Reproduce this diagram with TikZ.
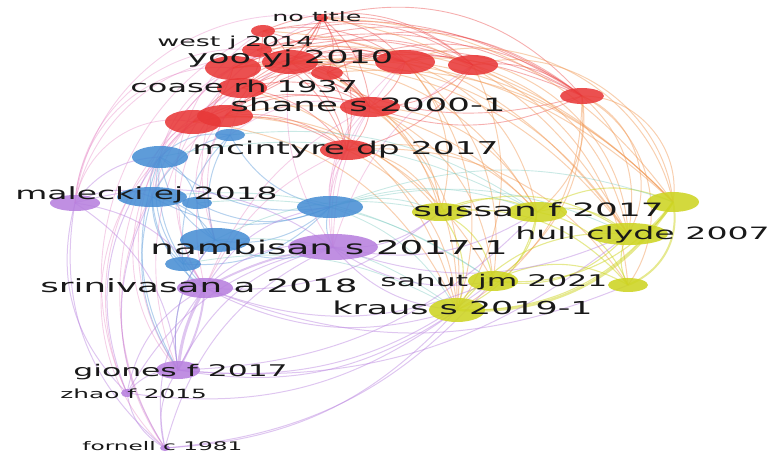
\documentclass[tikz,border=0pt]{standalone}
\usepackage{fontspec}
\setmainfont{DejaVu Sans}
\usetikzlibrary{shapes.geometric,backgrounds}
\definecolor{vred}{RGB}{232,56,56}
\definecolor{vblue}{RGB}{72,142,212}
\definecolor{vpurple}{RGB}{183,128,222}
\definecolor{vyellow}{RGB}{205,212,34}
\definecolor{vorange}{RGB}{240,150,80}
\definecolor{vpink}{RGB}{226,120,190}
\definecolor{vteal}{RGB}{120,200,190}
\tikzset{
  pub/.style={ellipse, inner sep=0pt, fill opacity=.88},
  rnode/.style={pub, fill=vred},
  bnode/.style={pub, fill=vblue},
  pnode/.style={pub, fill=vpurple},
  ynode/.style={pub, fill=vyellow},
  sz/.style 2 args={minimum width=#1pt, minimum height=#2pt},
  lab/.style={font=\fontsize{#1}{#1}\selectfont, text=black!90, anchor=base west, inner sep=0pt, xscale=1.95},
  er/.style={draw=vred, draw opacity=.4, line width=.9pt},
  eo/.style={draw=vorange, draw opacity=.45, line width=1pt},
  ey/.style={draw=vyellow, draw opacity=.5, line width=1.1pt},
  eb/.style={draw=vblue, draw opacity=.4, line width=1pt},
  ep/.style={draw=vpurple, draw opacity=.45, line width=1pt},
  ek/.style={draw=vpink, draw opacity=.35, line width=.9pt},
  et/.style={draw=vteal, draw opacity=.4, line width=.9pt}
}

\begin{document}
\begin{tikzpicture}[x=1pt,y=-1pt]
\useasboundingbox (0,0) rectangle (774,454);

% red cluster
\node[rnode,sz={12}{8}] (notitle) at (322,18) {};
\node[rnode,sz={24}{12}] (r2) at (263,31) {};
\node[rnode,sz={30}{14}] (west) at (257,50) {};
\node[rnode,sz={56}{24}] (r5) at (233,68) {};
\node[rnode,sz={56}{24}] (yoo) at (290,62) {};
\node[rnode,sz={32}{14}] (r6) at (327,73) {};
\node[rnode,sz={60}{24}] (r7) at (405,62) {};
\node[rnode,sz={50}{20}] (r8) at (473,65) {};
\node[rnode,sz={44}{16}] (r9) at (582,96) {};
\node[rnode,sz={50}{20}] (coase) at (242,88) {};
\node[rnode,sz={60}{20}] (shane) at (370,107) {};
\node[rnode,sz={56}{24}] (r12) at (193,122) {};
\node[rnode,sz={56}{22}] (r13) at (225,116) {};
\node[rnode,sz={54}{20}] (mcintyre) at (347,150) {};

% blue cluster
\node[bnode,sz={30}{12}] (b1) at (230,135) {};
\node[bnode,sz={56}{22}] (b2) at (160,157) {};
\node[bnode,sz={70}{20}] (malecki) at (152,197) {};
\node[bnode,sz={30}{12}] (b4) at (197,203) {};
\node[bnode,sz={66}{22}] (b5) at (330,207) {};
\node[bnode,sz={70}{24}] (b6) at (215,240) {};
\node[bnode,sz={36}{14}] (b7) at (183,264) {};

% purple cluster
\node[pnode,sz={50}{16}] (p1) at (75,203) {};
\node[pnode,sz={90}{26}] (nambisan) at (333,247) {};
\node[pnode,sz={56}{20}] (srinivasan) at (205,288) {};
\node[pnode,sz={44}{18}] (giones) at (178,370) {};
\node[pnode,sz={12}{8}] (zhao) at (127,393) {};
\node[pnode,sz={10}{6}] (fornell) at (165,448) {};

% yellow cluster
\node[ynode,sz={56}{18}] (y1) at (440,212) {};
\node[ynode,sz={60}{20}] (sussan) at (537,212) {};
\node[ynode,sz={52}{20}] (y3) at (673,202) {};
\node[ynode,sz={80}{22}] (hull) at (628,234) {};
\node[ynode,sz={50}{20}] (sahut) at (493,281) {};
\node[ynode,sz={40}{14}] (y6) at (628,285) {};
\node[ynode,sz={56}{24}] (kraus) at (457,310) {};

\begin{pgfonlayer}{background}
% links inside red
\foreach \a/\b in {notitle/yoo, notitle/r7, notitle/r8, notitle/shane, notitle/r5,
    notitle/mcintyre, notitle/coase, r2/yoo, r2/r7, r2/shane, west/shane, west/r7,
    yoo/r7, yoo/shane, yoo/mcintyre, r5/shane, r5/r12, coase/shane, coase/r7,
    r7/r8, r8/r9, r7/shane, shane/mcintyre, r12/mcintyre, r13/shane, r13/r7,
    coase/mcintyre, r9/shane, r9/yoo, r6/r8, r5/r8, west/r9, r2/r9, r6/mcintyre,
    r5/r7, r12/shane, r13/mcintyre, r8/shane, r8/mcintyre, r6/shane, west/mcintyre,
    r2/r13, notitle/r12, coase/r9}
  \draw[er] (\a.center) to[bend left=22] (\b.center);
\foreach \a/\b in {notitle/r9, r2/r8, west/r8, yoo/r9, r5/r9, coase/r8, r12/r7,
    r13/r9, r6/r9, notitle/r6}
  \draw[er] (\a.center) to[bend left=32] (\b.center);
% red to yellow
\foreach \a/\b in {r9/hull, r9/sussan, r8/hull, r7/sussan, r7/kraus,
    yoo/sussan, yoo/hull, shane/kraus, shane/sussan, shane/y1, mcintyre/sussan,
    mcintyre/kraus, r8/y6, r9/kraus, r7/sahut, coase/kraus, r5/hull,
    r13/sussan, r12/kraus, mcintyre/y6, r9/sahut, shane/sahut, mcintyre/y1,
    yoo/y1, r6/kraus, r7/y1, r8/kraus, r12/y1, r13/sahut}
  \draw[eo] (\a.center) to[bend left=30] (\b.center);
\foreach \a/\b in {r9/y3, r8/y3, r9/y6, r7/hull, r7/y3, r9/hull}
  \draw[eo] (\a.center) to[bend left=50] (\b.center);
\foreach \a/\b in {notitle/y3, r6/y3, r2/hull, west/y3, yoo/y3, notitle/hull, r5/y3}
  \draw[eo] (\a.center) to[bend left=26] (\b.center);
% yellow
\foreach \a/\b in {sussan/y3, sussan/hull, y1/kraus, y1/sussan, kraus/hull,
    kraus/sahut, sahut/y6, y3/hull, y3/kraus, y6/hull, sussan/kraus, y1/hull,
    y3/sahut, y1/y6, sussan/y6, y1/sahut, sussan/sahut, hull/sahut}
  \draw[ey] (\a.center) to[bend left=28] (\b.center);
\draw[ey,line width=2.5pt] (y3.center) to[bend left=30] (kraus.center);
\draw[ey,line width=2pt] (y3.center) to[bend left=40] (y6.center);
% blue
\foreach \a/\b in {b2/malecki, b2/b5, malecki/b5, b6/b5, b6/b7, b1/b5, b4/b5,
    b6/malecki, b2/b6, b1/b2, b5/nambisan, b6/nambisan, b7/srinivasan,
    b2/b7, malecki/b7, b1/b6, b4/b6, b2/srinivasan, malecki/giones, b6/giones,
    b1/malecki, b4/b2, b7/b5, b2/giones, b1/b7, malecki/srinivasan}
  \draw[eb] (\a.center) to[bend right=25] (\b.center);
\foreach \a/\b in {b2/r12, b5/mcintyre, b2/r13, b1/shane, b6/r5, malecki/r12,
    b5/shane, b6/coase, b1/yoo, b2/r5, malecki/coase, b5/r7, b4/r13}
  \draw[ek] (\a.center) to[bend left=25] (\b.center);
\foreach \a/\b in {b5/sussan, b6/kraus, b5/hull, b2/sussan, malecki/sahut,
    b5/y1, b5/kraus, b6/y1, b7/kraus, b1/sussan, b4/sahut, b5/y3}
  \draw[et] (\a.center) to[bend left=20] (\b.center);
% purple
\foreach \a/\b in {p1/srinivasan, p1/giones, srinivasan/nambisan, giones/nambisan,
    zhao/giones, zhao/srinivasan, fornell/giones, fornell/srinivasan,
    fornell/nambisan, zhao/nambisan, p1/nambisan, fornell/zhao, p1/malecki,
    srinivasan/b5, giones/b6, p1/b2}
  \draw[ep] (\a.center) to[bend left=25] (\b.center);
\foreach \a/\b in {giones/kraus, srinivasan/kraus, fornell/kraus, giones/sussan,
    nambisan/kraus, nambisan/sussan, srinivasan/sahut, zhao/kraus, giones/hull,
    nambisan/sahut, nambisan/y1, srinivasan/y1, giones/sahut, fornell/sahut,
    nambisan/hull, srinivasan/y6}
  \draw[ep] (\a.center) to[bend right=22] (\b.center);
\draw[ep,line width=3pt] (srinivasan.center) to[bend right=12] (giones.center);
\draw[ep,line width=2pt] (srinivasan.center) to[bend left=12] (giones.center);
\draw[ep,line width=2pt] (srinivasan.center) to[bend left=10] (nambisan.center);
% red to purple
\foreach \a/\b in {shane/nambisan, mcintyre/nambisan, yoo/nambisan, r7/nambisan,
    mcintyre/srinivasan, r13/srinivasan, shane/srinivasan, r8/nambisan}
  \draw[ek] (\a.center) to[bend right=20] (\b.center);
% long arcs on the left
\foreach \a/\b in {notitle/p1, west/p1, r2/srinivasan, notitle/giones, west/fornell,
    r5/p1, r12/p1, coase/srinivasan, r12/giones, r2/zhao, r13/fornell, b2/fornell,
    yoo/p1, r5/giones, coase/zhao}
  \draw[ek] (\a.center) to[bend right=46] (\b.center);
\foreach \a/\b in {p1/fornell, p1/zhao, malecki/fornell, b2/zhao}
  \draw[ep] (\a.center) to[bend right=30] (\b.center);
\end{pgfonlayer}

% labels
\node[lab=13] (lnotitle) at (272,22) {no title};
\node[lab=13.8] (lwest) at (157,47) {west j 2014};
\node[lab=18] (lyoo) at (187,64) {yoo yj 2010};
\node[lab=16.4] (lcoase) at (130,93) {coase rh 1937};
\node[lab=18.3] (lshane) at (230,112) {shane s 2000-1};
\node[lab=17.7] (lmcintyre) at (192,155) {mcintyre dp 2017};
\node[lab=16.9] (lmalecki) at (15,200) {malecki ej 2018};
\node[lab=19.1] (lnambisan) at (150,255) {nambisan s 2017-1};
\node[lab=18.3] (lsrinivasan) at (40,293) {srinivasan a 2018};
\node[lab=18.4] (lsussan) at (413,217) {sussan f 2017};
\node[lab=17] (lhull) at (515,240) {hull clyde 2007};
\node[lab=16.1] (lsahut) at (380,287) {sahut jm 2021};
\node[lab=17.9] (lkraus) at (332,315) {kraus s 2019-1};
\node[lab=16.1] (lgiones) at (73,377) {giones f 2017};
\node[lab=12.7] (lzhao) at (60,398) {zhao f 2015};
\node[lab=11.9] (lfornell) at (82,450) {fornell c 1981};
\end{tikzpicture}
\end{document}
